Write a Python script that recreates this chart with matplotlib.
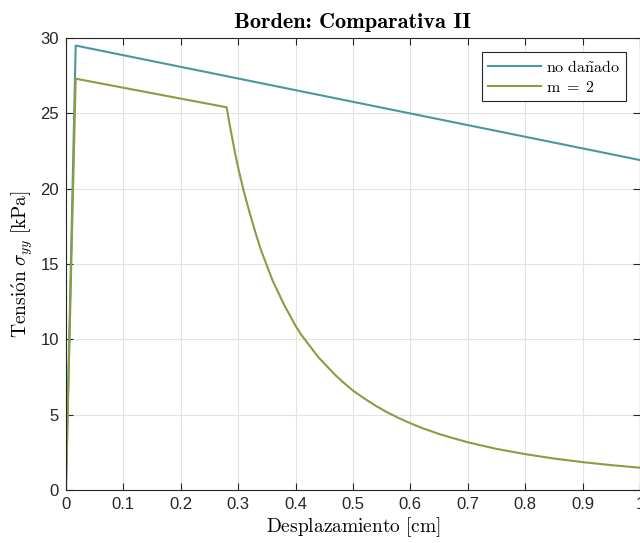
import matplotlib
matplotlib.use("Agg")
import matplotlib.pyplot as plt

# Datos
x_nd = [0.0, 0.017, 1.0]
y_nd = [0.0, 29.5, 21.9]

x_m2 = [0.0, 0.017, 0.28, 0.285, 0.29, 0.295, 0.30, 0.305, 0.31, 0.315, 0.32,
        0.33, 0.34, 0.35, 0.36, 0.37, 0.38, 0.39, 0.40, 0.41, 0.42, 0.43, 0.44,
        0.45, 0.46, 0.47, 0.48, 0.49, 0.50, 0.52, 0.54, 0.56, 0.58, 0.60, 0.62,
        0.65, 0.67, 0.70, 0.72, 0.75, 0.80, 0.85, 0.90, 0.95, 1.00]
y_m2 = [0.0, 27.3, 25.4, 24.3, 23.3, 22.3, 21.4, 20.6, 19.8, 19.1, 18.4,
        17.1, 15.9, 14.9, 13.9, 13.1, 12.3, 11.6, 10.9, 10.3, 9.8, 9.3, 8.8,
        8.4, 8.0, 7.6, 7.25, 6.92, 6.6, 6.07, 5.58, 5.15, 4.77, 4.43, 4.12,
        3.72, 3.49, 3.17, 2.99, 2.73, 2.38, 2.09, 1.85, 1.65, 1.48]

xticks = [0, 0.1, 0.2, 0.3, 0.4, 0.5, 0.6, 0.7, 0.8, 0.9, 1]
xticklabels = ["0", "0.1", "0.2", "0.3", "0.4", "0.5", "0.6", "0.7", "0.8", "0.9", "1"]
yticks = [0, 5, 10, 15, 20, 25, 30]

plt.rcParams['mathtext.fontset'] = 'cm'

fig = plt.figure(figsize=(6.4, 5.43), dpi=100)
ax = fig.add_axes([0.103, 0.0976, 0.897, 0.8324])

ax.plot(x_nd, y_nd, color='#4b979f', lw=1.5, label=r'$\mathrm{no\ da\tilde{n}ado}$')
ax.plot(x_m2, y_m2, color='#8d9c41', lw=1.5, label=r'$\mathrm{m}\;=\;2$')

ax.set_xlim(0, 1)
ax.set_ylim(0, 30)
ax.set_xticks(xticks)
ax.set_xticklabels(xticklabels)
ax.set_yticks(yticks)
for lab in ax.get_xticklabels() + ax.get_yticklabels():
    lab.set_family('Liberation Sans')
    lab.set_fontsize(12)
    lab.set_color('#262626')

ax.grid(True, color='#e3e3e3', lw=0.8)
ax.set_axisbelow(True)
ax.tick_params(direction='in', top=True, right=True, length=5, width=0.8,
               color='#262626', pad=5)
for s in ax.spines.values():
    s.set_color('#262626')
    s.set_linewidth(0.8)

ax.set_title('Borden: Comparativa II', family=['cmb10', 'DejaVu Serif'],
             fontsize=16, pad=7)
ax.set_xlabel(r'$\mathrm{Desplazamiento\ [cm]}$', fontsize=14, labelpad=2)
ax.set_ylabel(r'$\mathrm{Tensi\acute{o}n}\ \sigma_{yy}\ \mathrm{[kPa]}$',
              fontsize=14, labelpad=4)

leg = ax.legend(loc='upper right', prop={'size': 11.5},
                fancybox=False, edgecolor='#262626', framealpha=1,
                borderaxespad=0.9, handlelength=3.3, handletextpad=0.3,
                borderpad=0.4, labelspacing=0.3)
leg.get_frame().set_linewidth(0.8)

fig.savefig('out.png', dpi=100)
